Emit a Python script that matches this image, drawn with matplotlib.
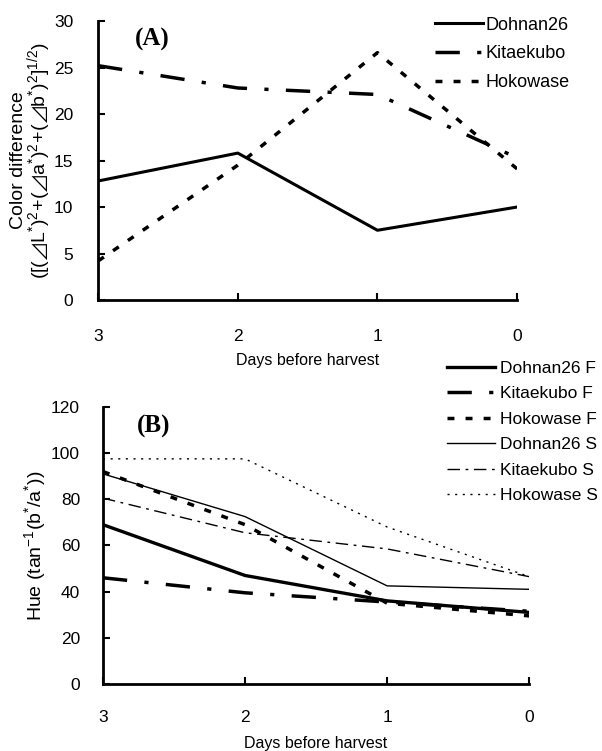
import matplotlib
matplotlib.use("Agg")
import matplotlib.pyplot as plt

days = [3, 2, 1, 0]

# Panel A: colour difference
dohnan26_A = [12.8, 15.8, 7.5, 10.0]
kitaekubo_A = [25.2, 22.8, 22.1, 15.3]
hokowase_A = [4.2, 14.5, 26.6, 14.1]

# Panel B: hue
dohnan26_F = [69.0, 47.0, 36.0, 31.0]
kitaekubo_F = [46.0, 39.5, 35.5, 31.5]
hokowase_F = [92.0, 69.0, 35.0, 29.5]
dohnan26_S = [91.0, 72.5, 42.5, 41.0]
kitaekubo_S = [80.5, 65.5, 58.5, 46.5]
hokowase_S = [97.5, 97.5, 68.0, 46.5]

yticks_A = [0, 5, 10, 15, 20, 25, 30]
yticks_B = [0, 20, 40, 60, 80, 100, 120]

plt.rcParams['font.family'] = ['Liberation Sans', 'DejaVu Sans']
plt.rcParams['mathtext.fontset'] = 'custom'
plt.rcParams['mathtext.rm'] = 'Liberation Sans'
plt.rcParams['mathtext.it'] = 'Liberation Sans'

fig = plt.figure(figsize=(6.02, 7.51), dpi=100)

def style(ax, yticks, xpad, ypad):
    ax.spines['top'].set_visible(False)
    ax.spines['right'].set_visible(False)
    for s in ['left', 'bottom']:
        ax.spines[s].set_linewidth(2.0)
    ax.set_xlim(3, 0)
    ax.set_xticks(days)
    ax.set_yticks(yticks)
    ax.set_ylim(yticks[0], yticks[-1])
    ax.tick_params(axis='both', direction='in', length=5, width=1.5, labelsize=12.5)
    ax.tick_params(axis='x', pad=xpad)
    ax.tick_params(axis='y', pad=ypad)

KD = (0, (7, 5, 1.2, 5))
HD = (0, (2, 3.2))

# Panel A
axA = fig.add_axes([0.163, 0.6005, 0.696, 0.3715])
axA.plot(days, dohnan26_A, color='black', lw=2.2, ls='-', label='Dohnan26')
axA.plot(days, kitaekubo_A, color='black', lw=2.5, ls=KD, label='Kitaekubo')
axA.plot(days, hokowase_A, color='black', lw=2.5, ls=HD, label='Hokowase')
style(axA, yticks_A, 21, 18)
axA.set_xlabel('Days before harvest', fontsize=11.5, labelpad=6)
axA.set_ylabel('Color difference\n' + r'$([(⊿\mathrm{L}^{*})^{2}\!+\!(⊿\mathrm{a}^{*})^{2}\!+\!(⊿\mathrm{b}^{*})^{2}]^{1/2})$',
               fontsize=14, labelpad=0.5, linespacing=0.9)
axA.text(0.088, 0.935, '(A)', transform=axA.transAxes, fontsize=18, fontweight='bold',
         family='Liberation Serif', va='center')
fig.legend(handles=axA.get_lines(), loc='upper left', bbox_to_anchor=(0.7226, 0.978),
           frameon=False, fontsize=13, handlelength=2.66, handletextpad=0.15, labelspacing=0.66,
           borderaxespad=0, borderpad=0)

# Panel B
axB = fig.add_axes([0.171, 0.0892, 0.708, 0.369])
axB.plot(days, dohnan26_F, color='black', lw=2.4, ls='-', label='Dohnan26 F')
axB.plot(days, kitaekubo_F, color='black', lw=2.5, ls=KD, label='Kitaekubo F')
axB.plot(days, hokowase_F, color='black', lw=2.5, ls=HD, label='Hokowase F')
axB.plot(days, dohnan26_S, color='black', lw=1.0, ls='-', label='Dohnan26 S')
axB.plot(days, kitaekubo_S, color='black', lw=1.0, ls=(0, (9, 4, 2, 4)), label='Kitaekubo S')
axB.plot(days, hokowase_S, color='black', lw=1.0, ls=(0, (1.5, 4)), label='Hokowase S')
style(axB, yticks_B, 19, 16.5)
axB.set_xlabel('Days before harvest', fontsize=11.5, labelpad=7.5)
axB.set_ylabel(r'Hue (tan$^{-1}$(b$^{*}$/a$^{*}$))', fontsize=14, labelpad=2)
axB.text(0.08, 0.93, '(B)', transform=axB.transAxes, fontsize=18, fontweight='bold',
         family='Liberation Serif', va='center')
fig.legend(handles=axB.get_lines(), loc='upper left', bbox_to_anchor=(0.7425, 0.520),
           frameon=False, fontsize=12.5, handlelength=2.76, handletextpad=0.3, labelspacing=0.6,
           borderaxespad=0, borderpad=0)

fig.savefig('out.png', dpi=100)
